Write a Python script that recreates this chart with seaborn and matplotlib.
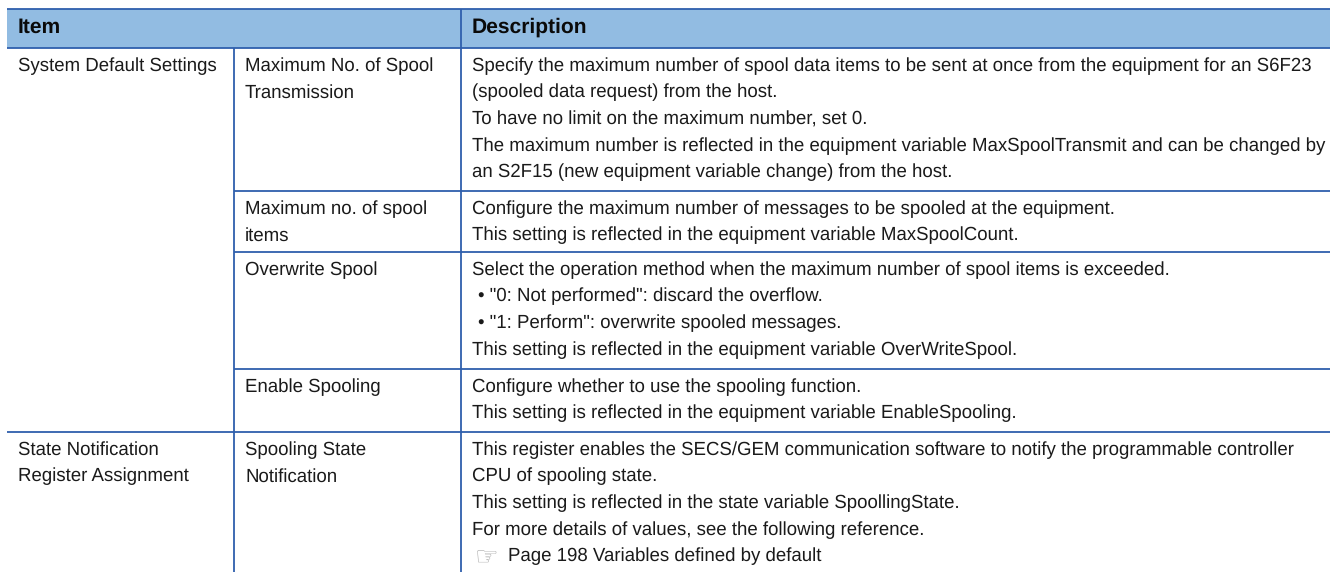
import matplotlib
matplotlib.use('Agg')
import matplotlib.pyplot as plt
import seaborn as sns

sns.set_theme(style='white')
plt.rcParams['font.family'] = ['Liberation Sans', 'DejaVu Sans']
plt.rcParams['text.hinting'] = 'no_hinting'

W, H = 1331, 572
BLUE = '#2f5fad'
HEAD = '#92bce2'
INK = '#1a1a1a'

# row borders and column borders (pixels of the reference)
col_x = [7, 234, 461, 1331]
head_top, head_bot = 9, 48
row_y = [48, 191, 252, 369, 432]

headers = ['Item', 'Description']
items = ['System Default Settings', 'State Notification\nRegister Assignment']
subitems = ['Maximum No. of Spool\nTransmission', 'Maximum no. of spool\nitems', 'Overwrite Spool',
            'Enable Spooling', 'Spooling State\nNotification']
descriptions = [
    ['Specify the maximum number of spool data items to be sent at once from the equipment for an S6F23',
     '(spooled data request) from the host.',
     'To have no limit on the maximum number, set 0.',
     'The maximum number is reflected in the equipment variable MaxSpoolTransmit and can be changed by',
     'an S2F15 (new equipment variable change) from the host.'],
    ['Configure the maximum number of messages to be spooled at the equipment.',
     'This setting is reflected in the equipment variable MaxSpoolCount.'],
    ['Select the operation method when the maximum number of spool items is exceeded.',
     '\u2022 "0: Not performed": discard the overflow.',
     '\u2022 "1: Perform": overwrite spooled messages.',
     'This setting is reflected in the equipment variable OverWriteSpool.'],
    ['Configure whether to use the spooling function.',
     'This setting is reflected in the equipment variable EnableSpooling.'],
    ['This register enables the SECS/GEM communication software to notify the programmable controller',
     'CPU of spooling state.',
     'This setting is reflected in the state variable SpoollingState.',
     'For more details of values, see the following reference.',
     'Page 198 Variables defined by default'],
]

fig = plt.figure(figsize=(W / 100, H / 100), dpi=100)
ax = fig.add_axes([0, 0, 1, 1])
ax.set_xlim(0, W)
ax.set_ylim(H, 0)
ax.axis('off')
sns.despine(ax=ax, left=True, bottom=True)

FS = 13.4
HEAD_FS = 15.1
LINE = 26.7
BASE = 22.7
PAD = 11
LW = 1.3


def put(x, y, s, size=FS, color=INK, **kw):
    ax.text(x, y, s, fontsize=size, color=color, va='baseline', ha='left', **kw)


ax.fill_between([col_x[0], W - 1], head_top, head_bot, color=HEAD, lw=0)
for y in [head_top, head_bot]:
    ax.plot([col_x[0], W - 1], [y, y], color=BLUE, lw=LW, solid_capstyle='butt')
ax.plot([col_x[2], col_x[2]], [head_top, H], color=BLUE, lw=LW, solid_capstyle='butt')
ax.plot([col_x[1], col_x[1]], [head_bot, H], color=BLUE, lw=LW, solid_capstyle='butt')
ax.plot([col_x[0], W - 1], [row_y[4], row_y[4]], color=BLUE, lw=LW, solid_capstyle='butt')
for y in row_y[1:4]:
    ax.plot([col_x[1], W - 1], [y, y], color=BLUE, lw=LW, solid_capstyle='butt')

put(col_x[0] + PAD, 33, headers[0], size=HEAD_FS, color='#0a0a0a', fontweight='bold')
put(col_x[2] + PAD, 33, headers[1], size=HEAD_FS, color='#0a0a0a', fontweight='bold')

for it, top in zip(items, [row_y[0], row_y[4]]):
    for i, s in enumerate(it.split('\n')):
        put(col_x[0] + PAD, top + BASE + i * LINE, s)

for r, (sub, desc) in enumerate(zip(subitems, descriptions)):
    top = row_y[r]
    for i, s in enumerate(sub.split('\n')):
        put(col_x[1] + PAD, top + BASE + i * LINE, s)
    for i, s in enumerate(desc):
        xoff = 0
        if s.startswith('\u2022'):
            xoff = 6
        if s.startswith('Page 198'):
            ax.text(col_x[2] + PAD + 3, top + BASE + i * LINE + 4, '\u261e', fontsize=19, color='#a8a8a8',
                    va='baseline', ha='left', family=['DejaVu Sans'])
            xoff = 36
        put(col_x[2] + PAD + xoff, top + BASE + i * LINE, s)

fig.savefig('out.png', dpi=100, facecolor='white')
